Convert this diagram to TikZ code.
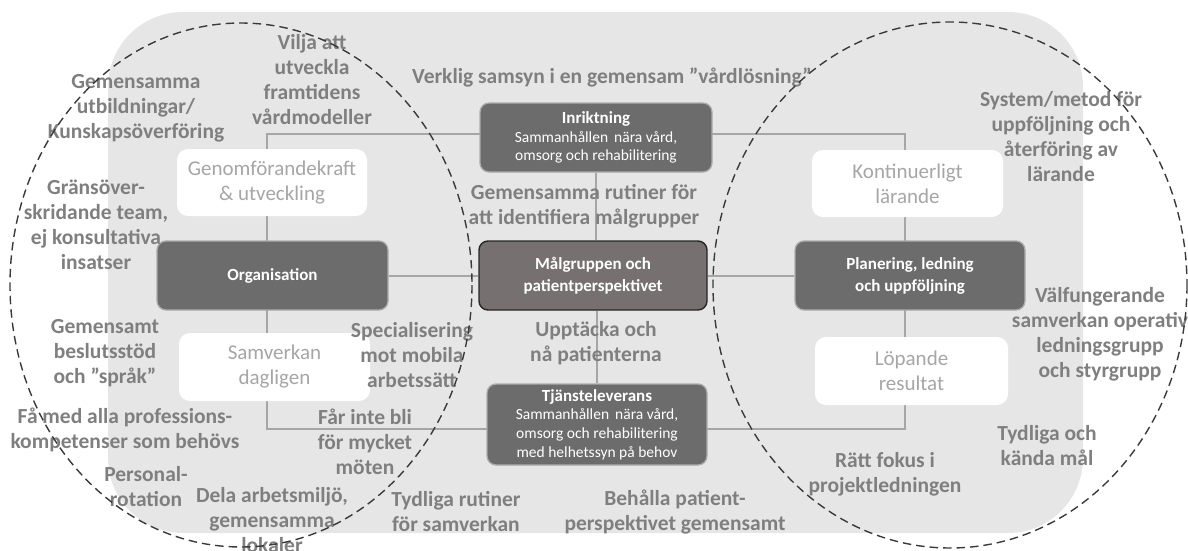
\documentclass[tikz,border=0pt]{standalone}
\usepackage{fontspec}
\setmainfont{Carlito}
\definecolor{bgc}{HTML}{E6E6E6}
\definecolor{connc}{HTML}{A6A6A6}
\definecolor{darkc}{HTML}{6C6C6C}
\definecolor{malc}{HTML}{767170}
\definecolor{labc}{HTML}{7F7F7F}
\definecolor{ltxt}{HTML}{A6A6A6}
\definecolor{dashc}{HTML}{3A3A3A}
\pgfdeclarelayer{back}
\pgfsetlayers{back,main}
\tikzset{
  conn/.style={draw=connc, line width=2pt},
  darkbox/.style={fill=darkc, draw=gray!65, line width=1.3pt, rounded corners=9pt, text=white, align=center, inner sep=0pt},
  malbox/.style={fill=malc, draw=black!85, line width=1.4pt, rounded corners=9pt, text=white, align=center, inner sep=0pt},
  whitebox/.style={fill=white, rounded corners=11pt, text=ltxt, align=center, inner sep=0pt, font=\fontsize{21}{25}\selectfont},
  lab/.style={text=labc, align=center, inner sep=0pt, font=\fontsize{21.5}{25}\selectfont\bfseries},
  ring/.style={draw=dashc, line width=1.4pt, dash pattern=on 8.5pt off 5pt},
  descfont/.style={font=\fontsize{15.5}{18.8}\selectfont},
  ttlfont/.style={font=\fontsize{17}{22}\selectfont\bfseries},
}
\newcommand{\boxttl}[1]{{\fontsize{17}{19}\selectfont\bfseries #1}}
\begin{document}
\begin{tikzpicture}[x=1pt,y=-1pt]
\useasboundingbox (0,0) rectangle (1188,551);
% frame coordinates
\coordinate (tl) at (267,134);
\coordinate (tr) at (905,134);
\coordinate (br) at (905,429);
\coordinate (bl) at (267,429);
% main boxes
\node[darkbox, descfont, minimum width=232pt, minimum height=69pt] (inr) at (596,137.5)
  {\boxttl{Inriktning}\\Sammanhållen\, nära vård,\\omsorg och rehabilitering};
\node[malbox, ttlfont, minimum width=228pt, minimum height=69pt] (mal) at (593,275.5)
  {Målgruppen och\\patientperspektivet};
\node[darkbox, descfont, minimum width=220pt, minimum height=81pt] (tj) at (597,424.5)
  {\boxttl{Tjänsteleverans}\\Sammanhållen\, nära vård,\\omsorg och rehabilitering\\med helhetssyn på behov};
\node[darkbox, ttlfont, minimum width=231pt, minimum height=69pt] (org) at (272.5,275.5) {Organisation};
\node[darkbox, ttlfont, minimum width=230pt, minimum height=69pt] (pla) at (910,275.5) {Planering, ledning\\och uppföljning};
% background and connectors
\begin{pgfonlayer}{back}
\fill[bgc, rounded corners=75pt] (108,12) rectangle (1083,533);
\draw[conn] (tl) -- (tr) -- (br) -- (bl) -- cycle;
\draw[conn] (org.east) -- (mal.west);
\draw[conn] (mal.east) -- (pla.west);
\draw[conn] (inr.south) -- (inr.south |- mal.north);
\draw[conn] (mal.south -| tj.north) -- (tj.north);
\end{pgfonlayer}
% white boxes
\node[whitebox, minimum width=190pt, minimum height=67pt] (g) at (272,182.5) {Genomförandekraft\\\& utveckling};
\node[whitebox, minimum width=191pt, minimum height=68pt] (sam) at (274.5,367) {Samverkan\\dagligen};
\node[whitebox, minimum width=191pt, minimum height=67pt] (kon) at (907.5,183.5) {Kontinuerligt\\lärande};
\node[whitebox, minimum width=193pt, minimum height=68pt] (lop) at (911.5,371) {Löpande\\resultat};
% labels
\node[lab] (l1) at (136,108) {Gemensamma\\utbildningar/\\Kunskapsöverföring};
\node[lab] (l2) at (312,80) {Vilja att\\utveckla\\framtidens\\vårdmodeller};
\node[lab] (l3) at (96,225) {Gränsöver-\\skridande team,\\ej konsultativa\\insatser};
\node[lab] (l4) at (105,353) {Gemensamt\\beslutsstöd\\och ”språk”};
\node[lab] (l5) at (125,430) {Få med alla professions-\\kompetenser som behövs};
\node[lab] (l6) at (146,487) {Personal-\\rotation};
\node[lab] (l7) at (272,520) {Dela arbetsmiljö,\\gemensamma\\lokaler};
\node[lab] (l8) at (365,442) {Får inte bli\\för mycket\\möten};
\node[lab] (l9) at (412,355) {Specialisering\\mot mobila\\arbetssätt};
\node[lab] (l10) at (456,512) {Tydliga rutiner\\för samverkan};
\node[lab] (l11) at (612,78) {Verklig samsyn i en gemensam ”vårdlösning”};
\node[lab] (l12) at (584,206) {Gemensamma rutiner för\\att identifiera målgrupper};
\node[lab] (l13) at (596,343) {Upptäcka och\\nå patienterna};
\node[lab] (l14) at (675,512) {Behålla patient-\\perspektivet gemensamt};
\node[lab] (l15) at (1061,137) {System/metod för\\uppföljning och\\återföring av\\lärande};
\node[lab] (l16) at (1100,334) {Välfungerande\\samverkan operativ\\ledningsgrupp\\och styrgrupp};
\node[lab] (l17) at (1047,446) {Tydliga och\\kända mål};
\node[lab] (l18) at (885,474) {Rätt fokus i\\projektledningen};
% dashed ellipses
\draw[ring] (241,285) ellipse [x radius=231, y radius=262];
\draw[ring] (950,285) ellipse [x radius=237, y radius=263];
\end{tikzpicture}
\end{document}
